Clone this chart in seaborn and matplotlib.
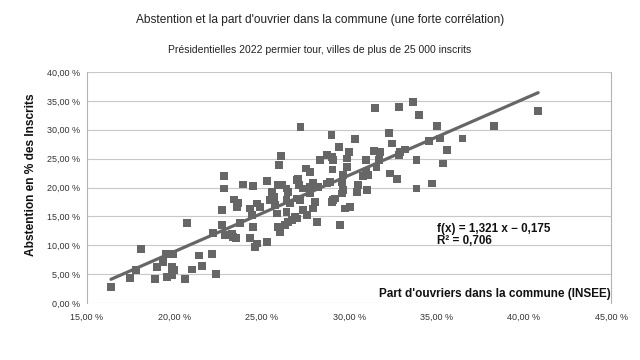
import matplotlib
matplotlib.use("Agg")
import matplotlib.pyplot as plt
import seaborn as sns
import numpy as np
import pandas as pd

# Part d'ouvriers (%) et abstention (%) par commune
ouvriers = [16.37, 17.46, 17.80, 18.09, 18.89, 18.99, 19.33, 19.52, 19.90, 19.59,
            19.85, 19.98, 19.85, 20.61, 21.02, 21.42, 21.56, 22.13, 22.36, 20.70,
            22.23, 22.71, 22.89, 23.28, 23.52, 23.75, 24.32, 24.48, 24.61, 24.71,
            25.98, 27.53, 27.76, 22.84, 22.84, 23.91, 24.51, 25.28, 25.94, 25.57,
            25.70, 25.47, 26.42, 27.00, 27.13, 27.37, 27.76, 28.22, 23.41, 23.56,
            23.64, 22.71, 24.32, 24.71, 24.90, 24.42, 25.75, 25.85, 26.42, 26.52,
            27.00, 27.37, 27.57, 27.95, 28.14, 23.37, 25.28, 26.04, 25.92, 26.33,
            29.00, 29.19, 31.48, 32.87, 33.67, 33.99, 27.22, 28.99, 30.33, 32.29,
            32.43, 29.43, 29.99, 28.71, 29.00, 28.33, 29.09, 29.86, 30.96, 31.44,
            31.76, 31.70, 32.91, 33.19, 33.86, 29.86, 29.05, 31.57, 29.66, 30.96,
            30.79, 31.07, 32.33, 32.75, 27.09, 26.50, 26.16, 27.76, 27.93, 28.71,
            28.90, 29.57, 29.65, 29.57, 30.52, 30.43, 31.00, 33.86, 27.00, 27.19,
            26.42, 26.61, 28.04, 29.09, 29.76, 30.05, 26.90, 26.71, 29.47, 40.82,
            35.04, 38.30, 34.58, 35.19, 36.49, 35.58, 32.87, 35.38, 34.72, 26.10]
abstention = [2.82, 4.33, 5.71, 9.39, 4.20, 6.28, 7.15, 8.43, 8.43, 4.55,
              6.28, 5.71, 4.84, 4.20, 5.83, 8.25, 6.45, 8.43, 5.02, 13.89,
              12.16, 13.49, 11.76, 12.06, 11.30, 13.89, 11.25, 13.20, 9.74, 10.33,
              23.88, 23.30, 22.72, 21.97, 19.84, 20.54, 20.29, 21.11, 20.42, 19.26,
              18.39, 17.82, 19.84, 21.28, 20.42, 19.84, 18.98, 20.12, 17.94, 16.66,
              17.30, 16.09, 16.38, 17.25, 16.66, 15.22, 16.96, 15.52, 15.80, 14.07,
              14.65, 16.09, 15.22, 16.38, 14.07, 11.47, 10.61, 12.34, 13.20, 13.49,
              17.53, 18.11, 33.74, 33.96, 34.83, 32.53, 30.50, 29.07, 28.37, 29.46,
              27.63, 27.04, 26.18, 25.61, 25.31, 24.74, 24.74, 25.03, 24.74, 26.35,
              26.18, 24.74, 26.18, 26.59, 24.74, 23.58, 23.13, 23.58, 22.15, 22.72,
              21.97, 22.15, 22.44, 21.45, 21.57, 19.20, 20.42, 20.12, 20.76, 20.71,
              20.99, 20.99, 19.55, 18.98, 20.42, 19.26, 19.55, 19.84, 18.11, 17.82,
              17.82, 17.25, 17.53, 17.82, 16.38, 16.66, 14.93, 14.36, 13.49, 33.22,
              30.62, 30.62, 28.08, 28.49, 28.49, 26.47, 25.61, 24.17, 20.71, 25.43]

# Droite de tendance affichée : f(x) = 1,321 x - 0,175 ; R² = 0,706
pente = 1.321
ordonnee = -0.175
r2 = 0.706

x_ticks = [15, 20, 25, 30, 35, 40, 45]
y_ticks = [0, 5, 10, 15, 20, 25, 30, 35, 40]

sns.set_style("white")
plt.rcParams["font.family"] = ["Liberation Sans", "DejaVu Sans"]

df = pd.DataFrame({"ouvriers": ouvriers, "abstention": abstention})

x_line = np.array([df["ouvriers"].min(), df["ouvriers"].max()])
trend = pd.DataFrame({"x": x_line, "y": (pente * x_line / 100 + ordonnee) * 100})

fig = plt.figure(figsize=(6.4, 3.6), dpi=100)
ax = fig.add_axes([0.136, 0.158, 0.819, 0.642])

gris = "#666666"
sns.lineplot(data=trend, x="x", y="y", ax=ax, color=gris, linewidth=2.3, zorder=2)
sns.scatterplot(data=df, x="ouvriers", y="abstention", ax=ax, marker="s",
                color=gris, s=32, edgecolor="none", zorder=3)

ax.set_xlim(15, 45)
ax.set_ylim(0, 40)
ax.set_xticks(x_ticks)
ax.set_yticks(y_ticks)
fmt = lambda v: f"{v:.2f} %".replace(".", ",")
ax.set_xticklabels([fmt(v) for v in x_ticks])
ax.set_yticklabels([fmt(v) for v in y_ticks])
ax.tick_params(axis="both", labelsize=6.5, colors="#333333", length=3, width=0.8,
               color="#b3b3b3")
ax.tick_params(axis="x", pad=4)
ax.tick_params(axis="y", pad=2)
ax.yaxis.grid(True, color="#c8c8c8", linewidth=0.8)
ax.set_axisbelow(True)
for side in ["top", "bottom"]:
    ax.spines[side].set_visible(False)
for side in ["left", "right"]:
    ax.spines[side].set_color("#b3b3b3")
    ax.spines[side].set_linewidth(0.8)
ax.set_xlabel("")
ax.set_ylabel("")

ax.text(1.0, 0.012, "Part d'ouvriers dans la commune (INSEE)", transform=ax.transAxes,
        ha="right", va="bottom", fontsize=8.5, fontweight="bold", color="#111111")
fig.text(0.048, 0.514, "Abstention en % des Inscrits", rotation=90, ha="center",
         va="center", fontsize=8.6, fontweight="bold", color="#111111")

eq = f"f(x) = {pente:.3f} x \u2212 {abs(ordonnee):.3f}".replace(".", ",")
ax.text(0.668, 0.294, eq + "\n" + f"R\u00b2 = {r2:.3f}".replace(".", ","),
        transform=ax.transAxes, ha="left", va="center", fontsize=8.4,
        fontweight="bold", color="#111111", linespacing=1.05)

fig.text(0.5, 0.945, "Abstention et la part d'ouvrier dans la commune (une forte corrélation)",
         ha="center", va="center", fontsize=8.6, color="#222222")
fig.text(0.5, 0.862, "Présidentielles 2022 permier tour, villes de plus de 25 000 inscrits",
         ha="center", va="center", fontsize=7.5, color="#222222")

fig.savefig("out.png", dpi=100, facecolor="white")
